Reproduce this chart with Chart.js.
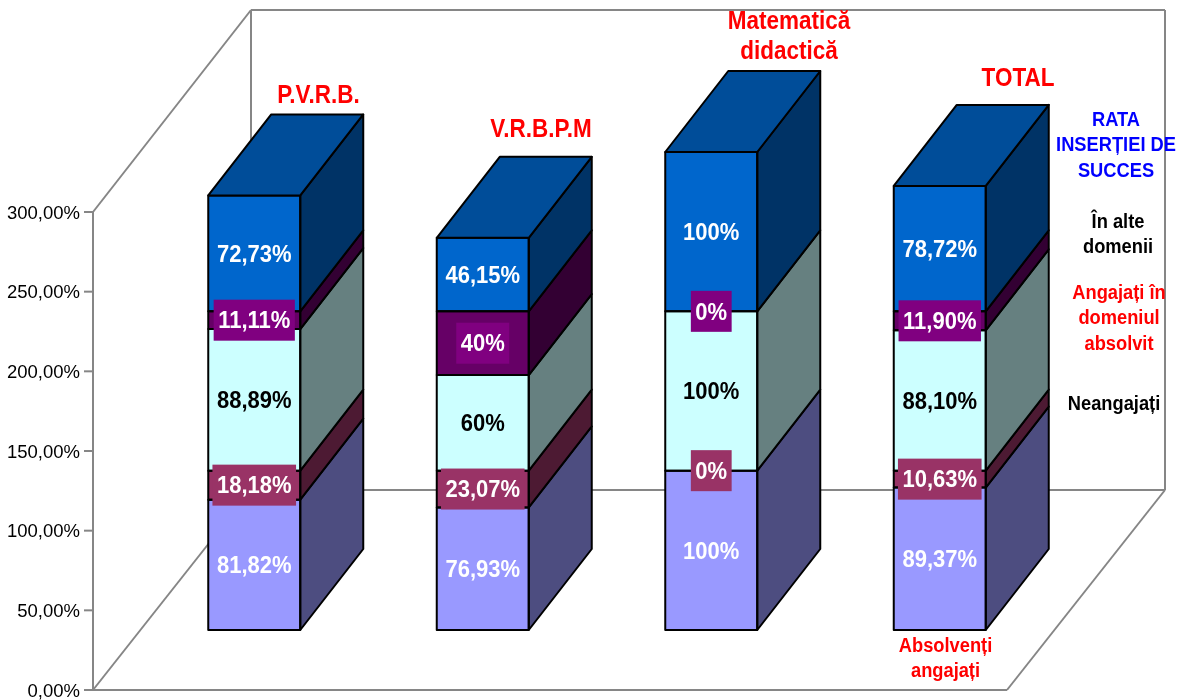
<!DOCTYPE html>
<html>
<head>
<meta charset="utf-8">
<style>html,body{margin:0;padding:0;background:#fff}canvas{display:block}</style>
<script src="https://cdn.jsdelivr.net/npm/chart.js@4"></script>
</head>
<body>
<canvas id="c" width="1179" height="700"></canvas>
<script>
const categories = [["P.V.R.B."], ["V.R.B.P.M"], ["Matematică", "didactică"], ["TOTAL"]];
const absolventiAngajati = [81.82, 76.93, 100, 89.37];
const neangajati = [18.18, 23.07, 0, 10.63];
const angajatiDomeniu = [88.89, 60, 100, 88.10];
const alteDomenii = [11.11, 40, 0, 11.90];
const rataInsertiei = [72.73, 46.15, 100, 78.72];
const labelsAbsolventi = ["81,82%", "76,93%", "100%", "89,37%"];
const labelsNeangajati = ["18,18%", "23,07%", "0%", "10,63%"];
const labelsAngajati = ["88,89%", "60%", "100%", "88,10%"];
const labelsAlte = ["11,11%", "40%", "0%", "11,90%"];
const labelsRata = ["72,73%", "46,15%", "100%", "78,72%"];
const yTicks = [0, 50, 100, 150, 200, 250, 300];

const FONT = '"Liberation Sans", Arial, sans-serif';
const AXIS_MAX = 426.78, BAR_FLOOR = -37.66;
const DEPTH_X = 63, DEPTH_Y = -81;
const FRAME_GREY = '#868686';
const TEXT_TALL = 1.12;

const titleSpots = [[318.5, 96], [541, 130], [789, 22], [1018, 79]];

const seriesStyle = [
  {name: ["Absolvenți", "angajați"], at: [945.5, 646], nameColor: '#ff0000', front: '#9999FF', side: '#4D4D80', text: '#fff', chip: null},
  {name: ["Neangajați"], at: [1114, 404], nameColor: '#000', front: '#993366', side: '#4D1A33', text: '#fff', chip: '#993366'},
  {name: ["Angajați în", "domeniul", "absolvit"], at: [1119, 293], nameColor: '#ff0000', front: '#CCFFFF', side: '#668080', text: '#000', chip: null},
  {name: ["În alte", "domenii"], at: [1118, 222], nameColor: '#000', front: '#660066', side: '#330033', text: '#fff', chip: '#800080'},
  {name: ["RATA", "INSERȚIEI DE", "SUCCES"], at: [1116, 120], nameColor: '#0000ff', front: '#0066CC', side: '#003366', text: '#fff', chip: null}
];
const seriesValues = [absolventiAngajati, neangajati, angajatiDomeniu, alteDomenii, rataInsertiei];
const seriesLabels = [labelsAbsolventi, labelsNeangajati, labelsAngajati, labelsAlte, labelsRata];
const TOP_FACE = '#004D99';

function poly(ctx, pts, fill, stroke, lw) {
  ctx.beginPath();
  pts.forEach((p, i) => i ? ctx.lineTo(p[0], p[1]) : ctx.moveTo(p[0], p[1]));
  ctx.closePath();
  if (fill) { ctx.fillStyle = fill; ctx.fill(); }
  if (stroke) { ctx.strokeStyle = stroke; ctx.lineWidth = lw; ctx.lineJoin = 'round'; ctx.stroke(); }
}

function tallText(ctx, s, x, y) {
  ctx.save();
  ctx.translate(x, y);
  ctx.scale(1, TEXT_TALL);
  ctx.fillText(s, 0, 0);
  ctx.restore();
}

const frame3d = {
  id: 'frame3d',
  beforeDatasetsDraw(chart) {
    const ctx = chart.ctx, y = chart.scales.y;
    const ax = 93, y0 = y.getPixelForValue(0), yTop = y.getPixelForValue(300);
    const bx = 251, by = 490, tY = 10, rx = 1165, fx = 1007;
    ctx.save();
    ctx.strokeStyle = FRAME_GREY; ctx.lineWidth = 2; ctx.lineCap = 'butt';
    const seg = (a, b, c, d) => { ctx.beginPath(); ctx.moveTo(a, b); ctx.lineTo(c, d); ctx.stroke(); };
    seg(ax, yTop, bx, tY);
    seg(bx, tY, rx, tY);
    seg(rx, tY, rx, by);
    seg(bx, tY, bx, by);
    seg(bx, by, rx, by);
    seg(ax, y0, bx, by);
    seg(rx, by, fx, y0);
    seg(ax, y0, fx, y0);
    seg(ax, y0, ax, yTop);
    yTicks.forEach(t => { const p = y.getPixelForValue(t); seg(ax - 9, p, ax, p); });
    ctx.restore();
  },
  afterDatasetsDraw(chart) {
    const ctx = chart.ctx;
    ctx.save();
    chart.data.datasets.forEach((ds, si) => {
      const st = seriesStyle[si];
      chart.getDatasetMeta(si).data.forEach((bar, i) => {
        if (!seriesValues[si][i]) return;
        const p = bar.getProps(['x', 'y', 'base', 'width'], true);
        const l = p.x - p.width / 2, r = p.x + p.width / 2;
        poly(ctx, [[r, p.y], [r + DEPTH_X, p.y + DEPTH_Y], [r + DEPTH_X, p.base + DEPTH_Y], [r, p.base]], st.side, '#000', 2);
        poly(ctx, [[l, p.y], [r, p.y], [r, p.base], [l, p.base]], null, '#000', 2);
      });
    });
    const topMeta = chart.getDatasetMeta(seriesStyle.length - 1);
    topMeta.data.forEach(bar => {
      const p = bar.getProps(['x', 'y', 'width'], true);
      const l = p.x - p.width / 2, r = p.x + p.width / 2;
      poly(ctx, [[l, p.y], [r, p.y], [r + DEPTH_X, p.y + DEPTH_Y], [l + DEPTH_X, p.y + DEPTH_Y]], TOP_FACE, '#000', 2);
    });
    ctx.textAlign = 'center';
    ctx.textBaseline = 'middle';
    ctx.font = 'bold 22px ' + FONT;
    chart.data.datasets.forEach((ds, si) => {
      const st = seriesStyle[si];
      chart.getDatasetMeta(si).data.forEach((bar, i) => {
        const p = bar.getProps(['x', 'y', 'base'], true);
        const cy = (p.y + p.base) / 2, txt = seriesLabels[si][i];
        if (st.chip) {
          const w = ctx.measureText(txt).width + 9;
          ctx.fillStyle = st.chip;
          ctx.fillRect(p.x - w / 2, cy - 20.5, w, 41);
        }
        ctx.fillStyle = st.text;
        tallText(ctx, txt, p.x, cy + 1.5);
      });
    });
    ctx.fillStyle = '#ff0000';
    ctx.font = 'bold 22.5px ' + FONT;
    categories.forEach((lines, i) => {
      lines.forEach((ln, k) => tallText(ctx, ln, titleSpots[i][0], titleSpots[i][1] + k * 30));
    });
    ctx.font = 'bold 18.3px ' + FONT;
    seriesStyle.forEach(st => {
      ctx.fillStyle = st.nameColor;
      st.name.forEach((ln, k) => tallText(ctx, ln, st.at[0], st.at[1] + k * 25.5));
    });
    ctx.restore();
  }
};

new Chart(document.getElementById('c'), {
  type: 'bar',
  data: {
    labels: categories.map(c => c.join(' ')),
    datasets: seriesValues.map((vals, i) => ({
      label: seriesStyle[i].name.join(' '),
      data: vals,
      yAxisID: 'yBars',
      backgroundColor: seriesStyle[i].front,
      borderWidth: 0,
      barPercentage: 1,
      categoryPercentage: 92 / 228.5,
      clip: false
    }))
  },
  options: {
    responsive: false,
    animation: false,
    layout: {padding: {top: 10, bottom: 10, left: 0, right: 125}},
    plugins: {legend: {display: false}, title: {display: false}, tooltip: {enabled: false}},
    scales: {
      x: {display: false, stacked: true},
      y: {
        position: 'left', min: 0, max: AXIS_MAX,
        grid: {display: false, drawTicks: true, tickLength: 60},
        border: {display: false},
        afterBuildTicks(s) { s.ticks = yTicks.map(v => ({value: v})); },
        afterFit(s) { s.width = 140; s.paddingTop = 0; s.paddingBottom = 0; },
        ticks: {
          padding: 0, autoSkip: false, color: '#000', labelOffset: 1.5, font: {family: FONT, size: 18.5},
          callback: v => v.toFixed(2).replace('.', ',') + '%'
        }
      },
      yBars: {display: false, stacked: true, min: BAR_FLOOR, max: AXIS_MAX + BAR_FLOOR}
    }
  },
  plugins: [frame3d]
});
</script>
</body>
</html>
